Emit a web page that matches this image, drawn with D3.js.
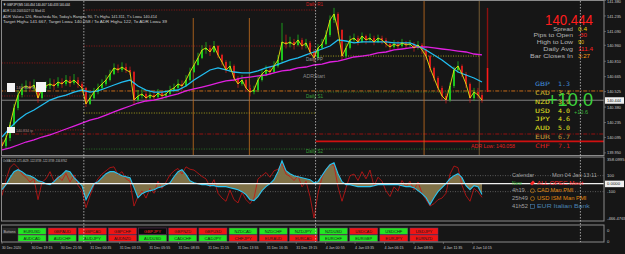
<!DOCTYPE html>
<html>
<head>
<meta charset="utf-8">
<script src="https://cdn.jsdelivr.net/npm/d3@7"></script>
<style>
body{margin:0;background:#161616;overflow:hidden;}
svg{display:block;font-family:"Liberation Sans",Arial,sans-serif;}
</style>
</head>
<body>
<svg id="chartsvg"></svg>
<script>
// ---- price bars (one point every ~4.35 M5 bars) ----
var firstOpen = 140.050;
var closes = [
 140.014,140.089,140.212,140.371,140.493,140.559,140.578,140.559,140.587,140.465,
 140.559,140.578,140.597,140.578,140.615,140.597,140.634,140.606,140.634,140.597,
 140.559,140.409,140.465,140.521,140.559,140.597,140.634,140.690,140.747,140.728,
 140.756,140.728,140.709,140.446,140.484,140.503,140.465,140.493,140.474,140.512,
 140.484,140.503,140.540,140.559,140.597,140.578,140.634,140.709,140.775,140.841,
 140.916,140.935,140.897,140.953,140.869,140.803,140.728,140.766,140.653,140.597,
 140.634,140.559,140.521,140.540,140.634,140.690,140.728,140.709,140.766,140.822,
 140.991,140.972,140.991,140.963,141.010,140.953,140.982,140.897,140.841,140.935,
 140.972,141.057,141.197,141.254,141.104,140.859,140.935,141.010,141.028,140.991,
 141.047,141.010,141.028,140.991,141.028,141.010,140.972,140.944,140.972,140.953,
 140.982,140.963,140.972,140.935,140.963,140.916,140.859,140.747,140.653,140.559,
 140.484,140.446,140.578,140.728,140.766,140.690,140.597,140.465,140.521,140.493,
 140.444];
var highs = [
 140.080,140.120,140.240,140.410,140.540,140.600,140.630,140.620,140.640,140.600,
 140.590,140.620,140.650,140.640,140.660,140.650,140.680,140.670,140.690,140.660,
 140.620,140.570,140.500,140.560,140.600,140.640,140.680,140.730,140.790,140.780,
 140.800,140.790,140.760,140.720,140.540,140.550,140.520,140.530,140.520,140.550,
 140.530,140.540,140.580,140.600,140.640,140.630,140.680,140.750,140.820,140.890,
 140.960,140.990,140.960,141.000,140.960,140.880,140.820,140.810,140.780,140.670,
 140.680,140.650,140.590,140.580,140.670,140.730,140.770,140.760,140.810,140.870,
 141.170,141.060,141.040,141.020,141.060,141.030,141.020,141.000,140.920,140.970,
 141.020,141.100,141.240,141.311,141.270,141.110,140.980,141.050,141.070,141.050,
 141.080,141.060,141.070,141.050,141.060,141.050,141.030,140.990,141.010,141.000,
 141.020,141.000,141.010,140.990,141.000,140.980,140.930,140.870,140.760,140.670,
 140.580,140.510,140.610,140.760,140.810,140.780,140.710,140.610,140.560,140.560,
 140.520];
var lows = [
 139.975,139.990,140.060,140.190,140.350,140.470,140.520,140.520,140.530,140.420,
 140.450,140.530,140.550,140.540,140.560,140.560,140.580,140.570,140.590,140.560,
 140.520,140.380,140.400,140.450,140.500,140.540,140.580,140.620,140.680,140.700,
 140.710,140.700,140.680,140.400,140.430,140.460,140.430,140.450,140.440,140.460,
 140.450,140.460,140.490,140.520,140.550,140.540,140.570,140.620,140.700,140.770,
 140.830,140.880,140.860,140.890,140.840,140.770,140.700,140.710,140.620,140.560,
 140.580,140.520,140.480,140.500,140.520,140.620,140.670,140.680,140.700,140.750,
 140.800,140.930,140.940,140.920,140.950,140.920,140.930,140.860,140.800,140.830,
 140.920,140.960,141.040,141.170,141.070,140.820,140.840,140.920,140.980,140.960,
 140.980,140.970,140.990,140.960,140.980,140.970,140.940,140.910,140.930,140.920,
 140.940,140.930,140.940,140.900,140.920,140.880,140.820,140.710,140.620,140.520,
 140.440,140.414,140.430,140.560,140.700,140.660,140.560,140.420,140.440,140.460,
 140.420];

// ---- moving averages (one point every ~8.7 M5 bars) ----
var maCyan = [
 140.099,140.183,140.258,140.315,140.352,140.399,140.446,140.474,140.493,140.521,
 140.540,140.521,140.531,140.559,140.587,140.615,140.634,140.578,140.540,140.521,
 140.521,140.531,140.540,140.578,140.634,140.681,140.728,140.747,140.728,140.709,
 140.700,140.700,140.719,140.747,140.766,140.794,140.822,140.841,140.869,140.897,
 140.925,140.953,141.010,141.000,140.982,140.991,140.991,140.991,140.991,140.982,
 140.982,140.982,140.953,140.916,140.869,140.822,140.766,140.709,140.681,140.653,
 140.615];
var maMagenta = [
 139.977,139.996,140.024,140.052,140.071,140.099,140.118,140.146,140.174,140.202,
 140.230,140.258,140.277,140.305,140.334,140.362,140.390,140.418,140.437,140.446,
 140.465,140.484,140.503,140.531,140.550,140.568,140.587,140.606,140.625,140.634,
 140.653,140.662,140.672,140.681,140.700,140.719,140.728,140.747,140.756,140.775,
 140.784,140.803,140.812,140.831,140.850,140.859,140.869,140.888,140.897,140.916,
 140.925,140.935,140.944,140.944,140.935,140.925,140.916,140.906,140.897,140.878,
 140.869];

// ---- OsMA / CCI sub window ----
var oscHist = [
 -75,-12,75,150,175,150,112,100,75,37,
 25,0,-12,25,75,112,162,150,75,25,
 -25,-200,-100,0,25,75,125,150,150,125,
 100,87,75,-50,-175,-125,-100,-87,-75,-50,
 -37,-12,12,87,150,175,112,37,12,0,
 -12,-12,-25,-25,-37,-37,-37,-50,-62,-75,
 -100,-137,-200,-212,-162,-87,-37,0,50,150,
 287,162,125,100,87,75,62,50,12,25,
 100,175,237,262,125,25,-12,-12,-25,-37,
 -37,-37,-37,-25,-12,-12,-12,-12,-12,-12,
 -25,-37,-37,-50,-87,-125,-175,-262,-175,-100,
 -50,0,62,100,125,75,-25,-75,-25,-37,
 -134];
var oscLine = [
 -150,50,200,250,200,120,80,20,60,-200,
 20,60,150,30,90,40,130,20,110,-20,
 -90,-300,-150,-20,60,120,160,200,210,110,
 150,60,30,-280,-160,-90,-180,-60,-120,30,
 -60,20,110,160,190,120,210,180,170,130,
 90,60,-40,50,-120,-180,-220,-80,-200,-240,
 -110,-200,-250,-180,60,100,140,80,160,180,
 250,120,90,40,100,-40,30,-160,-430,-120,
 80,180,240,230,-40,-220,-50,100,120,40,
 150,60,170,-30,80,30,-90,-160,-40,-90,
 40,-40,30,-80,20,-120,-200,-280,-250,-200,
 -180,-120,120,220,200,-20,-150,-220,-60,-100,
 -171];

// ---- axes ----
var priceTicks = [141.380,141.235,141.090,140.960,140.810,140.665,140.525,140.380,140.235,140.095,139.950];
var bidPrice = 140.444;
var oscTicks = [358.0995,100,-100,-466.4765];
var timeLabels = ["30 Dec 2020","30 Dec 19:15","30 Dec 21:55","31 Dec 00:35","31 Dec 03:15","31 Dec 05:55",
  "31 Dec 08:35","31 Dec 11:15","31 Dec 13:55","31 Dec 16:35","31 Dec 19:15","4 Jan 00:55","4 Jan 03:35",
  "4 Jan 06:15","4 Jan 08:55","4 Jan 11:35","4 Jan 14:15"];
var barsPerLabel = 32;
var daySeparators = [89, 341, 629];          // in M5 bars from the first bar
var sessionLines = [208, 269, 459, 519];

// ---- horizontal objects (price, first bar, last bar, kind) ----
var levelPrices = [141.291,140.953,140.794,140.484,140.165,140.531,140.324,140.859,140.521,140.127,140.058,139.986];
var levelFrom   = [89,89,-3,-3,36,-3,89,341,341,-3,341,89];
var levelTo     = [341,341,89,89,89,655,341,520,520,655,655,520];
var levelKind   = ["redDot","redDot","redDot","redDot","redDot","orangeDash","yellowDot","yellowDot","greenDot","darkRedDash","adrLow","greenDot"];

// ---- info panel ----
var infoLabels = ["Spread","Pips to Open","High to Low","Daily Avg","Bar Closes In"];
var infoValues = ["0.4","-30","90","111.4","3:27"];
var currencies = ["GBP","CAD","NZD","USD","JPY","AUD","EUR","CHF"];
var strengths = [1.3,3.4,3.9,4.0,4.6,5.0,6.7,7.1];
var calTimes = ["New","4h19","25h49","41h52"];
var calEvents = ["ALL  OPEC Meet","CAD Man PMI","USD ISM Man PMI","EUR Italian Bank"];

// ---- symbol buttons ----
var buttonRow1 = ["EURUSD","GBPAUD","GBPCAD","GBPCHF","GBPJPY","GBPNZD","GBPUSD","NZDCAD","NZDCHF","NZDJPY","NZDUSD","USDCAD","USDCHF","USDJPY"];
var buttonRow1State = ["up","dn","dn","dn","sel","dn","dn","up","up","up","up","dn","up","dn"];
var buttonRow2 = ["AUDCAD","AUDCHF","AUDJPY","AUDNZD","AUDUSD","CADCHF","CADJPY","CHFJPY","EURAUD","EURCAD","EURCHF","EURGBP","EURJPY","EURNZD"];
var buttonRow2State = ["up","up","up","dn","up","up","up","dn","dn","dn","up","up","dn","dn"];

var MT = {
	width0 : 625,
	height0 : 254,
	plotRight : 604,
	mainBottom : 155,
	subTop : 157,
	subBottom : 221,
	btnTop : 225,
	btnBottom : 242,
	Init : function() {
		var svg = d3.select("#chartsvg").attr("width", this.width0).attr("height", this.height0);
		svg.selectAll("*").remove();
		svg.append("rect").attr("width", this.width0).attr("height", this.height0).attr("fill", "#161616");
		this.svg = svg;

		//scales: x in M5 bars, y in price and oscillator units
		this.x = d3.scaleLinear().domain([0, 522]).range([2, 482]);
		this.y = d3.scaleLinear().domain([139.930, 141.385]).range([this.mainBottom, 0]);
		this.yo = d3.scaleLinear().domain([-466.4765, 358.0995]).range([this.subBottom, this.subTop - 2]);
		this.pointBar = 522 / (closes.length - 1);
		this.maBar = 522 / (maCyan.length - 1);

		var defs = svg.append("defs");
		defs.append("clipPath").attr("id", "clipmain").append("rect")
			.attr("x", 2).attr("y", 1).attr("width", this.plotRight - 2).attr("height", this.mainBottom - 1);
		defs.append("clipPath").attr("id", "clipsub").append("rect")
			.attr("x", 2).attr("y", this.subTop).attr("width", this.plotRight - 2).attr("height", this.subBottom - this.subTop);
	},

	Text : function(g, x, y, s, opt) {
		opt = opt || {};
		var t = g.append("text").attr("x", x).attr("y", y).text(s)
			.attr("font-size", opt.size || 4.5)
			.attr("fill", opt.color || "#c8c8c8")
			.attr("text-anchor", opt.anchor || "start");
		if (opt.len) t.attr("textLength", opt.len).attr("lengthAdjust", "spacingAndGlyphs");
		if (opt.family) t.attr("font-family", opt.family);
		if (opt.weight) t.attr("font-weight", opt.weight);
		return t;
	},

	DrawMain : function() {
		var mt = this, x = this.x, y = this.y;
		var g = this.svg.append("g").attr("clip-path", "url(#clipmain)");

		var styles = {
			redDot:      {c:"#b01818", w:0.8, d:"1,1.5"},
			orangeDash:  {c:"#d9741a", w:0.9, d:"4,1.5,1,1.5"},
			yellowDot:   {c:"#c8c020", w:0.8, d:"1,1.5"},
			greenDot:    {c:"#2e8b2e", w:0.8, d:"1,1.5"},
			darkRedDash: {c:"#a01010", w:0.9, d:"4,1.5,1,1.5"},
			adrLow:      {c:"#d01010", w:1.6, d:null}
		};
		levelPrices.forEach(function(p, i) {
			var s = styles[levelKind[i]];
			g.append("line")
				.attr("x1", x(levelFrom[i])).attr("x2", x(levelTo[i]))
				.attr("y1", y(p)).attr("y2", y(p))
				.attr("stroke", s.c).attr("stroke-width", s.w)
				.attr("stroke-dasharray", s.d);
		});
		//bid line
		g.append("line").attr("x1", 0).attr("x2", mt.plotRight)
			.attr("y1", y(bidPrice)).attr("y2", y(bidPrice))
			.attr("stroke", "#9a9a9a").attr("stroke-width", 0.8);

		//session markers
		sessionLines.forEach(function(b, i) {
			g.append("line").attr("x1", x(b)).attr("x2", x(b))
				.attr("y1", i < 2 ? 18 : 0).attr("y2", mt.mainBottom)
				.attr("stroke", i == 3 ? "#8a6a3a" : "#c8701e").attr("stroke-width", 0.8);
		});

		//candles
		var cg = g.append("g");
		closes.forEach(function(c, i) {
			var o = i ? closes[i - 1] : firstOpen;
			var col = c >= o ? "#1ed21e" : "#e01c1c";
			var xx = x(i * mt.pointBar);
			cg.append("line").attr("x1", xx).attr("x2", xx)
				.attr("y1", y(highs[i])).attr("y2", y(lows[i]))
				.attr("stroke", col).attr("stroke-width", 0.7);
			var top = y(Math.max(o, c)), bot = y(Math.min(o, c));
			cg.append("rect").attr("x", xx - 0.9).attr("width", 1.8)
				.attr("y", top).attr("height", Math.max(1, bot - top))
				.attr("fill", col);
		});

		var maLine = d3.line().x(function(d, i) { return x(i * mt.maBar); }).y(function(d) { return y(d); });
		g.append("path").datum(maMagenta).attr("d", maLine).attr("fill", "none")
			.attr("stroke", "#e020e0").attr("stroke-width", 1.3);
		g.append("path").datum(maCyan).attr("d", maLine).attr("fill", "none")
			.attr("stroke", "#22bdf0").attr("stroke-width", 1.3);

		var closeLine = d3.line().x(function(d, i) { return x(i * mt.pointBar); }).y(function(d) { return y(d); });
		g.append("path").datum(closes).attr("d", closeLine).attr("fill", "none")
			.attr("stroke", "#e8e010").attr("stroke-width", 0.9);

		//ADR range bar
		g.append("line").attr("x1", x(528)).attr("x2", x(528))
			.attr("y1", y(141.311)).attr("y2", y(140.747))
			.attr("stroke", "#8a1010").attr("stroke-width", 1.4);
		g.append("line").attr("x1", x(528)).attr("x2", x(528))
			.attr("y1", y(140.747)).attr("y2", y(140.521))
			.attr("stroke", "#ff1a1a").attr("stroke-width", 1.6);

		//object labels
		var lg = this.svg.append("g");
		mt.Text(lg, 306, 6, "Daily R1", {color:"#d02020", len:17});
		mt.Text(lg, 306, 61, "Daily PP", {color:"#9a9a9a", len:17});
		mt.Text(lg, 303, 78, "ADRStart", {color:"#8a8a8a", len:22});
		mt.Text(lg, 306, 98, "Daily S1", {color:"#3aa03a", len:17});
		mt.Text(lg, 306, 152.5, "Daily S2", {color:"#3aa03a", len:17});
		mt.Text(lg, 471, 147.5, "ADR Low: 140.058", {color:"#e02020", len:44});

		lg.append("rect").attr("x", 7).attr("y", 83).attr("width", 8).attr("height", 9).attr("fill", "#f4f4f4");
		lg.append("rect").attr("x", 36).attr("y", 82).attr("width", 10).attr("height", 10).attr("fill", "#f4f4f4");
		lg.append("rect").attr("x", 7).attr("y", 127).attr("width", 8).attr("height", 6).attr("fill", "#f4f4f4");
		mt.Text(lg, 16, 89, "140.844 lo", {color:"#b08080", size:3.8, len:19});
		mt.Text(lg, 16, 132, "140.834 tp", {color:"#b08080", size:3.8, len:17});

		//header
		mt.Text(lg, 3, 6, "\u25BC GBPJPY,M5  140.454 140.467 140.433 140.444", {color:"#e0e0e0", size:4.2, len:67});
		mt.Text(lg, 3, 11.8, "ADR 1.00 20051027 01 Mod 01", {color:"#d0d0d0", size:4.2, len:42});
		mt.Text(lg, 3, 17.5, "ADR Value= 126, Reached= No, Today's Range= 90, T's High= 141.311, T's Low= 140.414", {color:"#d0d0d0", size:4.2, len:154});
		mt.Text(lg, 3, 23, "Target High= 141.667, Target Low= 140.058 / To ADR High= 122, To ADR Low= 39", {color:"#d0d0d0", size:4.2, len:164});
	},

	DrawPanel : function() {
		var mt = this, g = this.svg.append("g");
		mt.Text(g, 569, 24.5, "140.444", {color:"#ff1c1c", size:15, anchor:"middle", len:48});
		var ry = d3.scalePoint().domain(d3.range(infoLabels.length)).range([30.5, 58]);
		var valColors = ["#e8d200", "#ff2a2a", "#e0b800", "#ff2020", "#ff9a10"];
		infoLabels.forEach(function(s, i) {
			mt.Text(g, 573, ry(i), s, {color:"#b4b4b4", size:5, anchor:"end", len:s.length * 3.3});
			mt.Text(g, 578, ry(i), infoValues[i], {color:valColors[i], size:5, len:infoValues[i].length * 3});
		});

		var cy = d3.scalePoint().domain(currencies).range([86, 148]);
		var curColors = ["#3f86d0", "#c8b42a", "#d8d820", "#e0e020", "#e0e020", "#e0e020", "#c89a38", "#d82020"];
		currencies.forEach(function(c, i) {
			mt.Text(g, 535, cy(c), c, {color:curColors[i], size:6, family:"DejaVu Sans Mono", len:15});
			mt.Text(g, 558, cy(c), strengths[i].toFixed(1), {color:curColors[i], size:6, family:"DejaVu Sans Mono", len:12});
		});
		mt.Text(g, 570, 106, "+10.0", {color:"#3cd23c", size:19, anchor:"middle", len:46});
		mt.Text(g, 574, 113.5, "+10.6", {color:"#3cb43c", size:4.8, len:14});
	},

	DrawSub : function() {
		var mt = this, x = this.x, yo = this.yo;
		var g = this.svg.append("g").attr("clip-path", "url(#clipsub)");
		[100, -100].forEach(function(v) {
			g.append("line").attr("x1", 0).attr("x2", mt.plotRight).attr("y1", yo(v)).attr("y2", yo(v))
				.attr("stroke", "#8a8a8a").attr("stroke-width", 0.6).attr("stroke-dasharray", "1,1.5");
		});
		var area = d3.area().x(function(d, i) { return x(i * mt.pointBar); })
			.y0(yo(0)).y1(function(d) { return yo(d); });
		g.append("path").datum(oscHist).attr("d", area).attr("fill", "#85764a").attr("fill-opacity", 0.95);
		var line = d3.line().x(function(d, i) { return x(i * mt.pointBar); }).y(function(d) { return yo(d); });
		g.append("path").datum(oscLine).attr("d", line).attr("fill", "none")
			.attr("stroke", "#c81414").attr("stroke-width", 0.8);
		g.append("path").datum(oscHist).attr("d", line).attr("fill", "none")
			.attr("stroke", "#28c4f0").attr("stroke-width", 1.1);
		g.append("line").attr("x1", 0).attr("x2", mt.plotRight).attr("y1", yo(0)).attr("y2", yo(0))
			.attr("stroke", "#f0f0f0").attr("stroke-width", 1.3);

		mt.Text(this.svg, 3, 161.5, "OsMA CCI -171.4629 -122.3739 -122.3739 -134.8762", {color:"#c8c8c8", size:4.2, len:64});

		//calendar
		var cal = this.svg.append("g");
		var ry = d3.scalePoint().domain(d3.range(calTimes.length)).range([184.5, 208]);
		mt.Text(cal, 512, 177, "Calendar", {color:"#a0a0a0", size:4.8, len:22});
		mt.Text(cal, 552, 177, "Mon 04 Jan 13:11", {color:"#a0a0a0", size:4.8, len:45});
		var evColors = ["#ff2a2a", "#e08a10", "#e08a10", "#4a82b0"];
		calTimes.forEach(function(t, i) {
			mt.Text(cal, 512, ry(i), t, {color: i == 0 ? "#30b030" : "#a0a0a0", size:4.8, len:t.length * 3.2});
			if (i == 0) {
				cal.append("path").attr("d", "M530," + (ry(i) - 1) + "l3,-3l2,2l-3,3z").attr("fill", "#ff2a2a");
			} else if (i < 3) {
				cal.append("circle").attr("cx", 532.5).attr("cy", ry(i) - 1.6).attr("r", 2)
					.attr("fill", "none").attr("stroke", evColors[i]).attr("stroke-width", 0.6);
			} else {
				cal.append("rect").attr("x", 530.5).attr("y", ry(i) - 3.6).attr("width", 4).attr("height", 4)
					.attr("fill", "none").attr("stroke", evColors[i]).attr("stroke-width", 0.6);
			}
			mt.Text(cal, 537, ry(i), calEvents[i], {color:evColors[i], size:4.8, len:calEvents[i].length * 3.3});
		});
	},

	DrawButtons : function() {
		var mt = this;
		var col = d3.scaleBand().domain(d3.range(buttonRow1.length)).range([18, 18 + 30 * buttonRow1.length]).paddingInner(0.07);
		var fills = {up:"#22e622", dn:"#f01414", sel:"#0a0a0a"};
		var rows = [[buttonRow1, buttonRow1State, 228], [buttonRow2, buttonRow2State, 235]];
		var g = this.svg.append("g");
		rows.forEach(function(r) {
			r[0].forEach(function(name, i) {
				g.append("rect").attr("x", col(i)).attr("y", r[2]).attr("width", col.bandwidth()).attr("height", 6.4)
					.attr("fill", fills[r[1][i]]).attr("stroke", "#6a3a6a").attr("stroke-width", 0.5);
				mt.Text(g, col(i) + col.bandwidth() / 2, r[2] + 4.8, name,
					{color: r[1][i] == "sel" ? "#ff2020" : "#1a1a1a", size:4.3, anchor:"middle", len:17});
			});
		});
		g.append("rect").attr("x", 2.5).attr("y", 228).attr("width", 14).attr("height", 6).attr("fill", "#2a2a2a");
		mt.Text(g, 3.5, 232.5, "Buttons", {color:"#c0c0c0", size:4, len:12});
	},

	DrawFrame : function() {
		var mt = this, svg = this.svg, x = this.x;
		var fg = svg.append("g").attr("fill", "none").attr("stroke", "#8a8a8a").attr("stroke-width", 1);
		fg.append("rect").attr("x", 1.5).attr("y", 0.5).attr("width", mt.plotRight - 1.5).attr("height", mt.mainBottom);
		fg.append("rect").attr("x", 1.5).attr("y", mt.subTop).attr("width", mt.plotRight - 1.5).attr("height", mt.subBottom - mt.subTop);
		fg.append("rect").attr("x", 1.5).attr("y", mt.btnTop).attr("width", mt.plotRight - 1.5).attr("height", mt.btnBottom - mt.btnTop);

		//day separators over all panes
		daySeparators.forEach(function(b) {
			svg.append("line").attr("x1", x(b)).attr("x2", x(b)).attr("y1", 1).attr("y2", mt.btnBottom)
				.attr("stroke", "#d8d8d8").attr("stroke-width", 0.7).attr("stroke-dasharray", "1.5,1.5");
		});

		//price axis
		var ax = svg.append("g");
		priceTicks.forEach(function(p, i) {
			var yy = mt.y(p);
			ax.append("line").attr("x1", mt.plotRight).attr("x2", mt.plotRight + 2).attr("y1", yy).attr("y2", yy).attr("stroke", "#8a8a8a").attr("stroke-width", 0.6);
			mt.Text(ax, 607, i == 0 ? 3 : yy + 1.6, p.toFixed(3), {color:"#c8c8c8", size:4.2, len:14});
		});
		ax.append("rect").attr("x", 605).attr("y", mt.y(bidPrice) - 3).attr("width", 19).attr("height", 6.5).attr("fill", "#f0f0f0");
		mt.Text(ax, 607, mt.y(bidPrice) + 1.7, bidPrice.toFixed(3), {color:"#111", size:4.2, len:14});

		oscTicks.forEach(function(v, i) {
			var yy = mt.yo(v);
			if (i == 0) yy = 159;
			if (i == 3) yy = 218.5;
			mt.Text(ax, 607, yy + 1.6, (Math.abs(v) > 300 ? v.toFixed(4) : v.toString()), {color:"#c8c8c8", size:4.2});
		});
		ax.append("rect").attr("x", 605).attr("y", mt.yo(0) - 3).attr("width", 19).attr("height", 6.5).attr("fill", "#f0f0f0");
		mt.Text(ax, 607, mt.yo(0) + 1.7, "0.0000", {color:"#111", size:4.2, len:13});
		mt.Text(ax, 607, 231.5, "0", {color:"#c8c8c8", size:4.2});
		mt.Text(ax, 607, 242.5, "0", {color:"#c8c8c8", size:4.2});

		//time axis
		timeLabels.forEach(function(t, k) {
			var xx = x(k * barsPerLabel);
			ax.append("line").attr("x1", xx).attr("x2", xx).attr("y1", mt.btnBottom).attr("y2", mt.btnBottom + 2)
				.attr("stroke", "#8a8a8a").attr("stroke-width", 0.6);
			mt.Text(ax, xx, 249, t, {color:"#c8c8c8", size:4.2, len: t.length > 11 ? 21 : 19});
		});
	}
};

MT.Init();
MT.DrawMain();
MT.DrawSub();
MT.DrawButtons();
MT.DrawPanel();
MT.DrawFrame();
</script>
</body>
</html>
